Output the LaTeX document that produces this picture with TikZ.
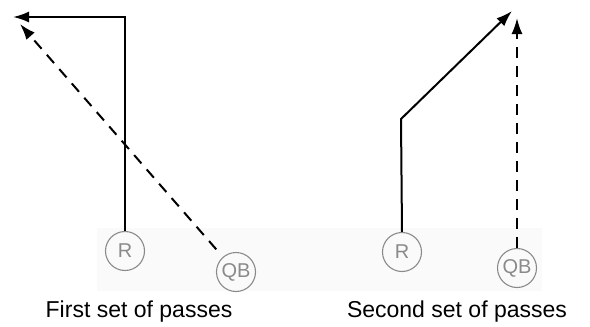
\documentclass[tikz,border=0pt]{standalone}
\usepackage{fontspec}
\setmainfont{Liberation Sans}
\usetikzlibrary{arrows.meta}
\definecolor{playergray}{HTML}{8A8A8A}
\definecolor{bandgray}{HTML}{FAFAFA}
\begin{document}
\begin{tikzpicture}[x=1pt,y=-1pt,
  player/.style={circle,draw=playergray,line width=1.1pt,text=playergray,
    minimum size=39pt,inner sep=0pt,font=\fontsize{20}{20}\selectfont},
  route/.style={line width=2pt,-{Latex[length=16pt,width=11pt]}},
  pass/.style={route,dash pattern=on 11pt off 8pt},
  caption/.style={font=\fontsize{23}{26}\selectfont,anchor=base}]
\useasboundingbox (0,0) rectangle (590,327);
\fill[bandgray] (97,228) rectangle (542,291);
% left panel
\node[player] (R1) at (125,251) {R};
\node[player] (QB1) at (236,272) {QB};
\coordinate (turn1) at (125,17);
\coordinate (end1) at (13,17);
\coordinate (pend1) at (20,24);
\draw[route] (R1.north) -- (turn1) -- (end1);
\draw[pass,shorten <=10pt] (QB1) -- (pend1);
\node[caption] (cap1) at (139,317) {First set of passes};
% right panel
\node[player] (R2) at (402,252) {R};
\node[player] (QB2) at (517,268) {QB};
\coordinate (turn2) at (401,119);
\coordinate (end2) at (512,11);
\coordinate (pend2) at (517,18);
\draw[route] (R2.north) -- (turn2) -- (end2);
\draw[pass] (QB2.north) -- (pend2);
\node[caption] (cap2) at (457,317) {Second set of passes};
\end{tikzpicture}
\end{document}
